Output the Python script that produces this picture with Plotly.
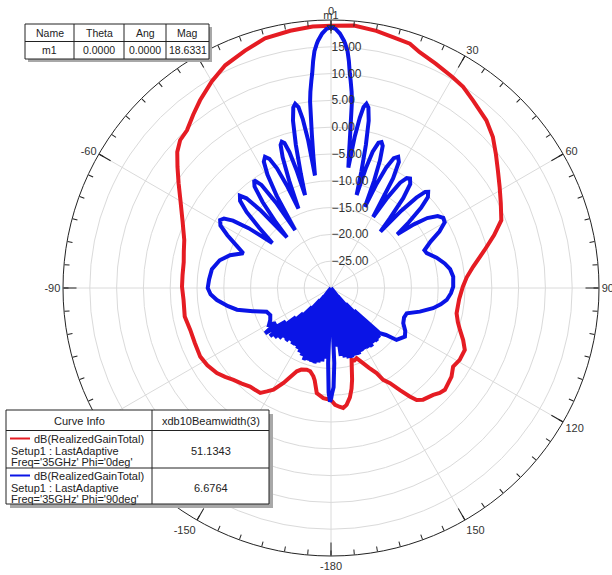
import plotly.graph_objects as go

# ---- radiation pattern cuts (theta in deg, gain in dB) ----
red_theta = [-180, -176, -172.3, -170, -168.7, -166, -163.5, -160, -157.7, -155.5,
             -153.4, -150.5, -148.2, -146, -143, -140.6, -137, -133.3, -130, -126.7,
             -122, -117.7, -112, -106.6, -101, -94.6, -89.5, -85, -80, -76,
             -71.9, -66, -59.8, -55.5, -51.7, -48.5, -45.6, -42.4, -38.5, -34.9,
             -30, -25.4, -19.9, -14.8, -9, -4, 0, 5, 10, 14,
             17.9, 20.6, 25, 30, 33.3, 37.1, 42.8, 47, 51, 54.8,
             59, 63.5, 68.3, 72, 76.1, 81.5, 85.5, 89.4, 95, 101.4,
             105, 108, 111.5, 114.8, 119.2, 122.8, 126.3, 131.8, 134, 136.3,
             140.5, 142.6, 144, 146, 148.2, 150.4, 151.8, 154.5, 156.8, 160,
             162, 164, 165.5, 167, 168.5, 170.2, 172.4, 174.2, 176, 178, 180]
red_db = [-9.1, -9.4, -10.2, -12.5, -13.2, -14.0, -14.1, -13.8, -13.2, -11.8,
          -10.2, -8.2, -7.3, -6.4, -6.3, -6.2, -5.6, -5.0, -4.2, -3.45,
          -2.8, -2.45, -2.6, -2.6, -2.2, -2.4, -2.2, -2.2, -2.1, -1.7,
          -1.2, 0.3, 2.5, 4.5, 6.5, 8.3, 9.4, 9.85, 11.3, 12.7,
          14.5, 16.0, 17.1, 18.2, 18.6, 18.9, 18.95, 19.15, 18.7, 18.2,
          17.9, 17.0, 16.2, 15.4, 14.9, 13.9, 12.65, 11.3, 9.6, 8.1,
          6.7, 5.4, 4.2, 2.0, -0.47, -3.2, -4.6, -5.4, -6.0, -6.1,
          -5.5, -4.7, -3.5, -2.5, -2.5, -2.9, -2.1, -1.5, -1.8, -2.4,
          -3.0, -3.7, -5.0, -7.0, -9.1, -10.3, -12.0, -13.5, -14.7, -16.05,
          -15.8, -16.05, -14.5, -12.5, -10.8, -9.3, -8.0, -7.5, -7.8, -8.2, -9.1]

blue_theta = [-180, -179.5, -178.7, -177.8, -177, -175.8, -174.5, -173.2, -171.8, -170.4,
              -169, -167.6, -166.2, -164.8, -163.4, -162, -160.6, -159.2, -157.8, -156.4,
              -155, -153.6, -152.2, -150.8, -149.4, -148, -146.6, -145.2, -143.8, -142.4,
              -141, -139.6, -138.2, -136.8, -135.4, -134, -132.6, -131.2, -129.8, -128.3,
              -126.6, -124.5, -122.5, -120.5, -117.7, -114, -110.2, -106.5, -103, -100,
              -96, -93, -90, -86, -81, -76, -72, -68.4, -66, -63,
              -60.5, -58.5, -57, -55.5, -54, -52.5, -50, -48, -46.2, -44.6,
              -43.3, -42.2, -41, -40, -38.5, -37, -35.5, -34, -32.8, -31.8,
              -30.5, -29.3, -28, -26.7, -25.5, -24.3, -23.2, -22.3, -21.3, -20.3,
              -19.4, -18.6, -17.8, -17, -16.3, -15.6, -14.8, -13.8, -12.8, -11.8,
              -11, -10.2, -9.5, -8.8, -8.1, -7.6, -7.1, -6.4, -6, -5.4,
              -5, -4.5, -4, -3.3, -3, -2, -1, 0, 1, 2,
              3, 3.3, 4, 4.5, 5, 5.4, 6, 6.4, 7.1, 7.6,
              8.2, 8.9, 9.6, 10.2, 10.9, 11.7, 12.7, 13.7, 14.6, 15.4,
              16.2, 17, 18.1, 19.1, 20, 21, 21.9, 22.7, 23.6, 24.6,
              25.8, 27.1, 28.3, 29.5, 30.7, 32, 33.3, 34.6, 35.8, 37.3,
              38.8, 40.2, 41.2, 42.3, 43.4, 44.4, 45.3, 46.8, 48.3, 49.8,
              51, 52.5, 54, 56, 58, 60, 62.5, 65, 68, 70,
              74, 77.8, 81, 84.7, 89.4, 92.5, 95.9, 98.5, 101.2, 104.9,
              108.5, 112, 116, 120, 123.3, 126, 128.4, 130.5, 132.8, 134.3,
              135.8, 137.3, 138.8, 140.3, 141.8, 143.3, 144.8, 146.3, 147.8, 149.3,
              150.8, 152.3, 153.8, 155.3, 156.8, 158.3, 159.8, 161.3, 162.8, 164.3,
              165.8, 167.3, 168.8, 170.3, 171.8, 173.3, 174.8, 176.3, 177.5, 178.5,
              179.5, 180]
blue_db = [-9.2, -8.8, -10.5, -16, -30, -16.8, -30, -16.2, -30, -15.9,
           -28, -15.6, -30, -15.7, -30, -15.8, -29, -15.6, -30, -16.2,
           -30, -16.6, -29, -17.0, -30, -17.3, -28, -17.2, -30, -17.5,
           -28, -17.0, -27, -17.2, -25, -16.5, -23, -16.0, -21.5, -15.5,
           -19.5, -15.1, -17.8, -16.6, -17.2, -17.6, -17.2, -14.8, -12.0, -10.5,
           -8.6, -7.5, -7.0, -7.2, -7.5, -8.6, -10.2, -12.4, -10.8, -8.3,
           -6.3, -5.75, -6.2, -7.8, -11, -16.2, -12.5, -8.8, -6.5, -5.8,
           -7, -10.5, -17.5, -14, -9.5, -6.3, -5.3, -6.8, -11, -17.3,
           -10, -5.8, -3.3, -2.6, -3.3, -5.5, -9.5, -14, -8.5, -4,
           -1.7, -1.2, -1.6, -3.5, -7, -12, -8, -2.5, 2.0, 4.4,
           5.0, 4.3, 2.0, -2, -8.8, -5, -1.1, 5.0, 6.8, 8.9,
           10.2, 12.5, 14.3, 15.7, 16.2, 17.5, 18.35, 18.6331, 18.35, 17.5,
           16.2, 15.7, 14.3, 12.5, 10.2, 8.9, 6.8, 5.0, -1.1, -4.5,
           -7.3, -1.5, 2.2, 4.3, 5.0, 4.4, 2.0, -2.5, -7.5, -12,
           -6.8, -3.4, -1.5, -1.2, -1.8, -4.5, -8.5, -13.6, -9, -5.3,
           -3.1, -2.5, -3.3, -6.5, -14.6, -10, -6.5, -5.1, -4.8, -5.6,
           -8.5, -13, -16, -10.5, -6.8, -4.9, -4.5, -5.2, -7.5, -11,
           -14.1, -10.5, -7.8, -6.0, -5.3, -5.5, -7.2, -9.5, -11.2, -11.0,
           -9.5, -8.3, -7.5, -7.1, -7.2, -7.6, -8.3, -9.3, -10.6, -12.85,
           -15.1, -15.3, -15.0, -14.0, -13.5, -14.0, -14.4, -16.5, -17.6, -24,
           -17.0, -26, -16.8, -28, -17.0, -30, -16.6, -27, -16.8, -30,
           -16.9, -28, -16.8, -30, -16.5, -29, -16.6, -30, -16.4, -28,
           -16.5, -30, -16.8, -29, -17.2, -30, -19, -30, -16, -11.5,
           -10.2, -9.2]

# ---- axes ----
r_range = [-30, 20]
radial_ticks = [-25, -20, -15, -10, -5, 0, 5, 10, 15]
ang_tick_vals = list(range(0, 360, 30))
ang_tick_text = ["0", "30", "60", "90", "120", "150", "-180", "-150", "-120", "-90", "-60", "-30"]
minor_tick_vals = list(range(0, 360, 5))

# ---- marker / curve info tables ----
marker_cols = ["Name", "Theta", "Ang", "Mag"]
marker_row = ["m1", "0.0000", "0.0000", "18.6331"]
marker_theta = 0.0
marker_mag = 18.6331

curve_header = ["Curve Info", "xdb10Beamwidth(3)"]
curve_expr = ["dB(RealizedGainTotal)", "dB(RealizedGainTotal)"]
curve_setup = ["Setup1 : LastAdaptive", "Setup1 : LastAdaptive"]
curve_freq = ["Freq='35GHz' Phi='0deg'", "Freq='35GHz' Phi='90deg'"]
beamwidths = ["51.1343", "6.6764"]
curve_colors = ["#e51c23", "#0a14e6"]

W, H = 612, 575
FONT = "Liberation Sans, Arial, sans-serif"


def px(x):
    return x / W


def py(y):
    return 1 - y / H


cx, cy, R = 331, 288, 268
dom_x = [px(cx - R), px(cx + R)]
dom_y = [py(cy + R), py(cy - R)]

fig = go.Figure()

fig.add_trace(go.Scatterpolar(r=red_db, theta=red_theta, mode="lines",
                              line=dict(color=curve_colors[0], width=4),
                              subplot="polar", hoverinfo="skip"))
fig.add_trace(go.Scatterpolar(r=blue_db, theta=blue_theta, mode="lines",
                              line=dict(color=curve_colors[1], width=4),
                              subplot="polar", hoverinfo="skip"))
fig.add_trace(go.Scatterpolar(r=[marker_mag], theta=[marker_theta], mode="markers+text",
                              marker=dict(symbol="triangle-down-open", size=7,
                                          color="#333", line=dict(width=1)),
                              text=["m1"], textposition="top center",
                              textfont=dict(family=FONT, size=11, color="#333"),
                              cliponaxis=False, subplot="polar", hoverinfo="skip"))
# empty trace so the minor-tick overlay subplot is rendered
fig.add_trace(go.Scatterpolar(r=[None], theta=[None], mode="lines", subplot="polar2",
                              hoverinfo="skip"))

fig.update_layout(
    width=W, height=H, margin=dict(l=0, r=0, t=0, b=0),
    paper_bgcolor="white", showlegend=False,
    font=dict(family=FONT, color="#222"),
    polar=dict(
        domain=dict(x=dom_x, y=dom_y),
        bgcolor="white",
        radialaxis=dict(range=r_range, tickvals=radial_ticks, tickformat=".2f",
                        angle=90, tickangle=90, side="clockwise",
                        showline=False, ticks="", gridcolor="#dadada", gridwidth=1,
                        tickfont=dict(family=FONT, size=12, color="#333")),
        angularaxis=dict(rotation=90, direction="clockwise",
                         tickmode="array", tickvals=ang_tick_vals, ticktext=ang_tick_text,
                         ticks="inside", ticklen=13, tickcolor="#222", tickwidth=1,
                         showline=True, linecolor="#222", linewidth=1,
                         showgrid=True, gridcolor="#dadada", gridwidth=1,
                         tickfont=dict(family=FONT, size=11, color="#333")),
    ),
    polar2=dict(
        domain=dict(x=dom_x, y=dom_y),
        bgcolor="rgba(0,0,0,0)",
        radialaxis=dict(range=r_range, visible=False),
        angularaxis=dict(rotation=90, direction="clockwise",
                         tickmode="array", tickvals=minor_tick_vals,
                         ticks="inside", ticklen=5, tickcolor="#222", tickwidth=1,
                         showticklabels=False, showline=False, showgrid=False),
    ),
)

shapes = []
annotations = []


def rect(x0, y0, x1, y1, fill, line=None):
    shapes.append(dict(type="rect", xref="paper", yref="paper",
                       x0=px(x0), x1=px(x1), y0=py(y1), y1=py(y0),
                       fillcolor=fill, line=dict(width=1 if line else 0, color=line or fill)))


def hline(x0, x1, y, color="#222", width=1):
    shapes.append(dict(type="line", xref="paper", yref="paper",
                       x0=px(x0), x1=px(x1), y0=py(y), y1=py(y),
                       line=dict(color=color, width=width)))


def vline(x, y0, y1, color="#222", width=1):
    shapes.append(dict(type="line", xref="paper", yref="paper",
                       x0=px(x), x1=px(x), y0=py(y0), y1=py(y1),
                       line=dict(color=color, width=width)))


def text(x, y, s, anchor="center", size=11):
    annotations.append(dict(xref="paper", yref="paper", x=px(x), y=py(y), text=s,
                            showarrow=False, xanchor=anchor, yanchor="middle",
                            font=dict(family=FONT, size=size, color="#222")))


# marker table
rect(28, 27, 212, 62, "#a8a8a8")
rect(25, 24, 209, 59, "white", "#222")
hline(25, 209, 41.5)
for x in (74, 124, 166):
    vline(x, 24, 59)
col_centers = [49.5, 99, 145, 187.5]
for xc, head, val in zip(col_centers, marker_cols, marker_row):
    text(xc, 33, head, size=10.5)
    text(xc, 50.5, val, size=10.5)

# curve info table
rect(10, 414, 273, 508, "#a8a8a8")
rect(6, 410, 269, 504, "white", "#222")
hline(6, 269, 430.5)
hline(6, 269, 468)
vline(152, 410, 504)
text(79, 420.5, curve_header[0])
text(210.5, 420.5, curve_header[1])
for i, y0 in enumerate((438.5, 475.5)):
    hline(10, 30, y0, color=curve_colors[i], width=2)
    text(32, y0, curve_expr[i], anchor="left")
    text(9, y0 + 12, curve_setup[i], anchor="left")
    text(9, y0 + 23.5, curve_freq[i], anchor="left")
    text(210.5, y0 + 12, beamwidths[i])

fig.update_layout(shapes=shapes, annotations=annotations)
fig.write_html("out.html")
